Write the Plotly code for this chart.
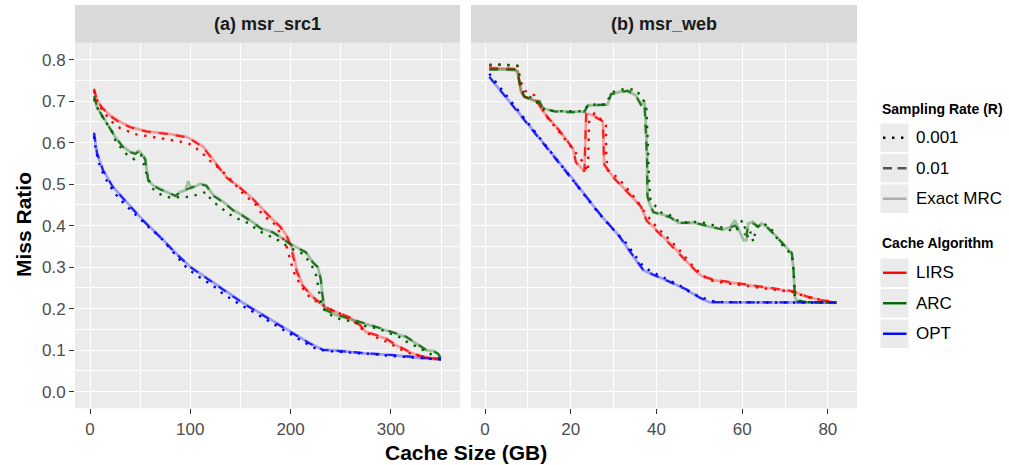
import plotly.graph_objects as go

# ---------------- data: (a) msr_src1 ----------------
A_LIRS_EXACT_X = [4, 7, 12, 20, 30, 40, 56, 76, 96, 103, 113, 123, 136, 149, 162, 172, 182, 190, 197, 200, 203, 206, 212, 222, 235, 252, 260, 269, 275, 285, 295, 305, 318, 328, 341, 350]
A_LIRS_EXACT_Y = [0.728, 0.702, 0.685, 0.666, 0.650, 0.638, 0.627, 0.622, 0.614, 0.606, 0.590, 0.558, 0.517, 0.493, 0.466, 0.440, 0.415, 0.398, 0.372, 0.355, 0.330, 0.295, 0.257, 0.229, 0.203, 0.185, 0.177, 0.160, 0.144, 0.136, 0.128, 0.112, 0.096, 0.086, 0.080, 0.078]
A_LIRS_01_X = [4, 7, 12, 20, 30, 40, 56, 76, 96, 103, 113, 123, 136, 149, 162, 172, 182, 190, 197, 200, 203, 206, 212, 222, 235, 252, 260, 269, 275, 285, 295, 305, 318, 328, 341, 350]
A_LIRS_01_Y = [0.730, 0.700, 0.684, 0.664, 0.648, 0.637, 0.627, 0.621, 0.613, 0.604, 0.588, 0.556, 0.516, 0.492, 0.465, 0.439, 0.414, 0.396, 0.370, 0.350, 0.320, 0.290, 0.255, 0.228, 0.203, 0.186, 0.178, 0.161, 0.144, 0.137, 0.128, 0.113, 0.097, 0.087, 0.081, 0.078]
A_LIRS_001_X = [4, 8, 14, 22, 30, 46, 64, 83, 91, 99, 106, 114, 121, 129, 141, 152, 166, 171, 178, 182, 191, 196, 199, 202, 205, 209, 214, 220, 229, 240, 252, 260, 267, 274, 288, 298, 305, 313, 322, 332, 340, 350]
A_LIRS_001_Y = [0.725, 0.695, 0.672, 0.650, 0.635, 0.620, 0.613, 0.606, 0.602, 0.597, 0.586, 0.570, 0.553, 0.538, 0.509, 0.479, 0.449, 0.429, 0.415, 0.410, 0.377, 0.350, 0.321, 0.297, 0.277, 0.261, 0.242, 0.225, 0.213, 0.198, 0.185, 0.174, 0.162, 0.144, 0.128, 0.118, 0.108, 0.098, 0.090, 0.084, 0.080, 0.078]

A_ARC_EXACT_X = [4, 7, 12, 20, 26, 33, 40, 45, 49, 55, 58, 63, 70, 75, 85, 90, 95, 98, 101, 110, 116, 123, 133, 143, 152, 162, 171, 182, 192, 202, 215, 222, 227, 230, 232, 234, 245, 259, 272, 282, 292, 302, 315, 325, 335, 343, 347, 350]
A_ARC_EXACT_Y = [0.710, 0.686, 0.666, 0.634, 0.610, 0.590, 0.578, 0.574, 0.580, 0.562, 0.509, 0.497, 0.489, 0.484, 0.471, 0.481, 0.485, 0.507, 0.490, 0.501, 0.497, 0.473, 0.457, 0.437, 0.425, 0.409, 0.393, 0.385, 0.369, 0.353, 0.337, 0.313, 0.301, 0.273, 0.229, 0.197, 0.185, 0.174, 0.165, 0.158, 0.150, 0.142, 0.132, 0.116, 0.100, 0.098, 0.092, 0.080]
A_ARC_01_X = [4, 7, 12, 20, 26, 33, 40, 45, 49, 55, 58, 63, 70, 75, 85, 90, 95, 98, 101, 110, 116, 123, 133, 143, 152, 162, 171, 182, 192, 202, 215, 222, 227, 230, 232, 234, 245, 259, 272, 282, 292, 302, 315, 325, 335, 343, 347, 350]
A_ARC_01_Y = [0.712, 0.687, 0.664, 0.633, 0.611, 0.589, 0.577, 0.573, 0.579, 0.560, 0.510, 0.496, 0.487, 0.483, 0.472, 0.480, 0.486, 0.490, 0.492, 0.500, 0.496, 0.472, 0.456, 0.436, 0.424, 0.408, 0.392, 0.384, 0.368, 0.352, 0.336, 0.312, 0.300, 0.272, 0.228, 0.198, 0.186, 0.175, 0.166, 0.159, 0.151, 0.143, 0.133, 0.117, 0.101, 0.097, 0.091, 0.080]
A_ARC_001_X = [4, 8, 13, 18, 22, 25, 30, 36, 44, 51, 55, 57, 62, 68, 76, 85, 92, 98, 106, 112, 116, 121, 128, 136, 143, 151, 159, 167, 174, 182, 191, 197, 206, 214, 219, 224, 226, 229, 231, 235, 242, 250, 260, 268, 277, 287, 295, 303, 312, 318, 327, 335, 342, 350]
A_ARC_001_Y = [0.705, 0.680, 0.660, 0.640, 0.626, 0.607, 0.590, 0.573, 0.560, 0.570, 0.534, 0.520, 0.490, 0.478, 0.469, 0.468, 0.470, 0.469, 0.474, 0.478, 0.481, 0.461, 0.447, 0.433, 0.421, 0.413, 0.405, 0.389, 0.381, 0.373, 0.361, 0.349, 0.339, 0.330, 0.310, 0.293, 0.275, 0.237, 0.206, 0.193, 0.182, 0.174, 0.170, 0.163, 0.156, 0.153, 0.144, 0.137, 0.128, 0.116, 0.108, 0.096, 0.088, 0.078]

A_OPT_EXACT_X = [4, 7, 13, 23, 35, 53, 70, 86, 100, 119, 136, 152, 169, 186, 202, 219, 232, 252, 269, 302, 335, 350]
A_OPT_EXACT_Y = [0.622, 0.574, 0.534, 0.493, 0.461, 0.413, 0.373, 0.333, 0.301, 0.270, 0.242, 0.215, 0.190, 0.165, 0.141, 0.117, 0.101, 0.098, 0.093, 0.088, 0.080, 0.078]
A_OPT_01_X = [4, 7, 13, 23, 35, 53, 70, 86, 100, 119, 136, 152, 169, 186, 202, 219, 232, 252, 269, 302, 335, 350]
A_OPT_01_Y = [0.624, 0.575, 0.533, 0.492, 0.460, 0.412, 0.372, 0.332, 0.300, 0.269, 0.241, 0.214, 0.189, 0.164, 0.140, 0.116, 0.101, 0.098, 0.094, 0.088, 0.081, 0.078]
A_OPT_001_X = [4, 6, 9, 14, 20, 28, 40, 50, 60, 69, 80, 90, 97, 105, 112, 122, 134, 142, 150, 160, 173, 180, 188, 196, 204, 212, 220, 227, 237, 250, 263, 280, 302, 320, 340, 350]
A_OPT_001_Y = [0.615, 0.580, 0.550, 0.520, 0.495, 0.468, 0.439, 0.415, 0.393, 0.375, 0.344, 0.317, 0.297, 0.283, 0.271, 0.257, 0.233, 0.222, 0.209, 0.196, 0.177, 0.167, 0.155, 0.144, 0.132, 0.121, 0.110, 0.102, 0.098, 0.096, 0.094, 0.091, 0.086, 0.083, 0.080, 0.078]

# ---------------- data: (b) msr_web ----------------
B_LIRS_EXACT_X = [1, 6.8, 7.6, 8.4, 9.2, 10.3, 11.5, 12.3, 13.1, 14.6, 17, 19.3, 20.5, 21.2, 22.4, 23.2, 23.6, 25.1, 26.7, 27.5, 27.8, 30.2, 33.3, 36.4, 37.7, 40.8, 44.7, 47.8, 50.2, 53.3, 58.7, 64.2, 68.8, 72, 75, 78.2, 82]
B_LIRS_EXACT_Y = [0.780, 0.777, 0.772, 0.722, 0.710, 0.708, 0.702, 0.698, 0.682, 0.662, 0.634, 0.602, 0.586, 0.554, 0.538, 0.530, 0.670, 0.666, 0.658, 0.650, 0.546, 0.514, 0.481, 0.445, 0.413, 0.381, 0.341, 0.305, 0.281, 0.269, 0.261, 0.253, 0.246, 0.241, 0.229, 0.221, 0.214]
B_LIRS_01_X = [1, 6.8, 7.6, 8.4, 9.2, 10.3, 11.5, 12.3, 13.1, 14.6, 17, 19.3, 20.5, 21.2, 22.4, 23.2, 23.6, 25.1, 26.7, 27.5, 27.8, 30.2, 33.3, 36.4, 37.7, 40.8, 44.7, 47.8, 50.2, 53.3, 58.7, 64.2, 68.8, 72, 75, 78.2, 82]
B_LIRS_01_Y = [0.779, 0.778, 0.771, 0.724, 0.711, 0.707, 0.703, 0.697, 0.683, 0.661, 0.633, 0.603, 0.585, 0.553, 0.537, 0.531, 0.668, 0.665, 0.657, 0.651, 0.548, 0.513, 0.480, 0.446, 0.412, 0.380, 0.340, 0.306, 0.280, 0.270, 0.262, 0.254, 0.247, 0.242, 0.230, 0.221, 0.214]
B_LIRS_001_X = [1, 3.3, 6, 7.5, 8.4, 9.3, 10.5, 11.5, 12.8, 14.6, 17, 19.7, 21.5, 22.8, 24, 24.1, 24.3, 25.5, 26.7, 28.2, 28.3, 28.6, 31, 32.3, 35.5, 37.3, 40, 43.2, 45.9, 48.6, 52.1, 56, 60, 64, 68, 72, 75, 78, 82]
B_LIRS_001_Y = [0.785, 0.788, 0.786, 0.785, 0.745, 0.725, 0.718, 0.714, 0.690, 0.660, 0.630, 0.594, 0.572, 0.554, 0.530, 0.618, 0.650, 0.670, 0.660, 0.642, 0.570, 0.534, 0.515, 0.500, 0.460, 0.431, 0.397, 0.365, 0.335, 0.301, 0.269, 0.262, 0.256, 0.250, 0.245, 0.240, 0.228, 0.222, 0.215]

B_ARC_EXACT_X = [1, 6.8, 7.6, 8.4, 9.2, 11.1, 12.7, 13.5, 16.2, 20.1, 23.2, 24, 26.3, 28.6, 29.4, 31.3, 33.3, 35.2, 36.4, 37.2, 37.5, 37.8, 37.9, 38.5, 39.3, 43.2, 45.1, 48.6, 52.5, 55.6, 57.2, 58.3, 59.1, 60.3, 61, 61.4, 62.5, 63.8, 64.5, 65.7, 68.1, 70.4, 71.6, 72, 72.3, 72.8, 75, 82]
B_ARC_EXACT_Y = [0.777, 0.775, 0.771, 0.726, 0.710, 0.702, 0.700, 0.682, 0.676, 0.674, 0.674, 0.690, 0.690, 0.692, 0.716, 0.722, 0.724, 0.714, 0.692, 0.697, 0.650, 0.570, 0.473, 0.450, 0.433, 0.421, 0.407, 0.407, 0.397, 0.391, 0.396, 0.413, 0.393, 0.365, 0.365, 0.405, 0.409, 0.397, 0.405, 0.397, 0.373, 0.345, 0.333, 0.293, 0.229, 0.218, 0.216, 0.214]
B_ARC_01_X = [1, 6.8, 7.6, 8.4, 9.2, 11.1, 12.7, 13.5, 16.2, 20.1, 23.2, 24, 26.3, 28.6, 29.4, 31.3, 33.3, 35.2, 36.4, 37.2, 37.5, 37.8, 37.9, 38.5, 39.3, 43.2, 45.1, 48.6, 52.5, 55.6, 57.2, 58.3, 59.1, 60.3, 61, 61.4, 62.5, 63.8, 64.5, 65.7, 68.1, 70.4, 71.6, 72, 72.3, 72.8, 75, 82]
B_ARC_01_Y = [0.776, 0.776, 0.770, 0.727, 0.711, 0.701, 0.699, 0.683, 0.675, 0.673, 0.675, 0.689, 0.691, 0.691, 0.717, 0.721, 0.725, 0.713, 0.691, 0.696, 0.640, 0.560, 0.470, 0.449, 0.432, 0.420, 0.406, 0.408, 0.398, 0.390, 0.395, 0.400, 0.392, 0.380, 0.378, 0.400, 0.405, 0.398, 0.404, 0.398, 0.372, 0.346, 0.334, 0.292, 0.230, 0.219, 0.216, 0.214]
B_ARC_001_X = [1, 3.3, 6, 7.6, 8.2, 9, 10, 11.5, 12.8, 14, 16, 18, 20.5, 23, 24, 26, 28.2, 29.5, 31.3, 33.3, 35.2, 36.8, 37.6, 37.9, 38.1, 38.3, 38.6, 40, 41.2, 43.2, 44.8, 47.1, 49, 51, 52.9, 54.9, 56.8, 58.4, 59.5, 60, 61, 61.4, 62, 62.6, 63, 63.4, 64.9, 66.5, 68.4, 69.9, 71.6, 72, 72.3, 73.1, 75, 78, 82]
B_ARC_001_Y = [0.788, 0.788, 0.787, 0.785, 0.750, 0.720, 0.712, 0.705, 0.688, 0.680, 0.676, 0.676, 0.676, 0.676, 0.690, 0.692, 0.692, 0.720, 0.728, 0.728, 0.728, 0.705, 0.690, 0.620, 0.550, 0.500, 0.460, 0.445, 0.431, 0.425, 0.413, 0.407, 0.409, 0.407, 0.403, 0.397, 0.391, 0.385, 0.401, 0.413, 0.385, 0.369, 0.385, 0.361, 0.381, 0.397, 0.405, 0.397, 0.365, 0.347, 0.330, 0.293, 0.229, 0.220, 0.216, 0.215, 0.214]

B_OPT_EXACT_X = [1, 10, 20, 27, 31.5, 34.6, 36.9, 39.3, 43.2, 47.1, 50.2, 52.5, 60, 70, 82]
B_OPT_EXACT_Y = [0.758, 0.645, 0.519, 0.425, 0.373, 0.325, 0.293, 0.281, 0.265, 0.245, 0.225, 0.215, 0.215, 0.215, 0.215]
B_OPT_01_X = [1, 10, 20, 27, 31.5, 34.6, 36.9, 39.3, 43.2, 47.1, 50.2, 52.5, 60, 70, 82]
B_OPT_01_Y = [0.759, 0.644, 0.518, 0.426, 0.372, 0.326, 0.294, 0.282, 0.264, 0.246, 0.226, 0.216, 0.215, 0.215, 0.215]
B_OPT_001_X = [1, 5, 10, 15, 20, 26.3, 30, 33, 35.5, 36.7, 38.5, 40.4, 42.4, 44.3, 46.3, 48, 50, 51.9, 54, 60, 66, 72, 78, 82]
B_OPT_001_Y = [0.766, 0.714, 0.648, 0.582, 0.516, 0.433, 0.390, 0.357, 0.321, 0.305, 0.291, 0.281, 0.270, 0.262, 0.251, 0.238, 0.230, 0.222, 0.216, 0.215, 0.215, 0.215, 0.215, 0.215]

PANEL_TITLES = ["(a) msr_src1", "(b) msr_web"]
ALGORITHMS = ["LIRS", "ARC", "OPT"]
RATES = ["0.001", "0.01", "Exact MRC"]
Y_TICKS = [0.0, 0.1, 0.2, 0.3, 0.4, 0.5, 0.6, 0.7, 0.8]
X_TICKS_A = [0, 100, 200, 300]
X_TICKS_B = [0, 20, 40, 60, 80]

# ---------------- styling ----------------
W, H = 1009, 465
FONT = "Liberation Sans, Arial, Helvetica, sans-serif"
RGB = {"LIRS": (255, 0, 0), "ARC": (0, 100, 0), "OPT": (0, 0, 255)}


def rgba(name, a):
    r, g, b = RGB[name]
    return f"rgba({r},{g},{b},{a})"


def fx(p):
    return p / W


def fy(p):
    return (H - p) / H


data = {
    ("x", "y"): {
        "LIRS": [(A_LIRS_EXACT_X, A_LIRS_EXACT_Y), (A_LIRS_01_X, A_LIRS_01_Y), (A_LIRS_001_X, A_LIRS_001_Y)],
        "ARC": [(A_ARC_EXACT_X, A_ARC_EXACT_Y), (A_ARC_01_X, A_ARC_01_Y), (A_ARC_001_X, A_ARC_001_Y)],
        "OPT": [(A_OPT_EXACT_X, A_OPT_EXACT_Y), (A_OPT_01_X, A_OPT_01_Y), (A_OPT_001_X, A_OPT_001_Y)],
    },
    ("x2", "y2"): {
        "LIRS": [(B_LIRS_EXACT_X, B_LIRS_EXACT_Y), (B_LIRS_01_X, B_LIRS_01_Y), (B_LIRS_001_X, B_LIRS_001_Y)],
        "ARC": [(B_ARC_EXACT_X, B_ARC_EXACT_Y), (B_ARC_01_X, B_ARC_01_Y), (B_ARC_001_X, B_ARC_001_Y)],
        "OPT": [(B_OPT_EXACT_X, B_OPT_EXACT_Y), (B_OPT_01_X, B_OPT_01_Y), (B_OPT_001_X, B_OPT_001_Y)],
    },
}

fig = go.Figure()
# layer order: exact (pale), 0.01 (dashed), 0.001 (dotted)
for level in range(3):
    for (xa, ya), series in data.items():
        for alg in ALGORITHMS:
            xs, ys = series[alg][level]
            if level == 0:
                line = dict(color=rgba(alg, 0.33), width=2.8)
            elif level == 1:
                line = dict(color=rgba(alg, 0.8), width=2.2, dash="9px,8px")
            else:
                line = dict(color=rgba(alg, 1.0), width=2.4, dash="2.4px,6.6px")
            fig.add_trace(go.Scatter(x=xs, y=ys, xaxis=xa, yaxis=ya, mode="lines",
                                     line=line, showlegend=False, hoverinfo="skip",
                                     name=f"{alg} {RATES[2 - level] if level else 'Exact MRC'}"))

y_dom = [fy(408.3), fy(43)]
common_axis = dict(showgrid=True, gridcolor="white", gridwidth=1.1, zeroline=False,
                   showline=False, ticks="outside", ticklen=5, tickwidth=1.1, tickcolor="#333333",
                   tickfont=dict(family=FONT, size=17, color="#4D4D4D"))

fig.update_layout(
    width=W, height=H, margin=dict(l=0, r=0, t=0, b=0),
    paper_bgcolor="white", plot_bgcolor="#EBEBEB",
    font=dict(family=FONT),
    xaxis=dict(domain=[fx(75), fx(460)], range=[-14.96, 368.9], anchor="y",
               tickvals=X_TICKS_A, ticktext=[str(v) for v in X_TICKS_A],
               minor=dict(tickvals=[50, 150, 250, 350], showgrid=True, gridcolor="white", gridwidth=0.55, ticks=""),
               **common_axis),
    xaxis2=dict(domain=[fx(471), fx(857)], range=[-3.27, 86.8], anchor="y2",
                tickvals=X_TICKS_B, ticktext=[str(v) for v in X_TICKS_B],
                minor=dict(tickvals=[10, 30, 50, 70], showgrid=True, gridcolor="white", gridwidth=0.55, ticks=""),
                **common_axis),
    yaxis=dict(domain=y_dom, range=[-0.04, 0.84], anchor="x",
               tickvals=Y_TICKS, ticktext=[f"{v:.1f}" for v in Y_TICKS],
               minor=dict(tickvals=[0.05, 0.15, 0.25, 0.35, 0.45, 0.55, 0.65, 0.75], showgrid=True,
                          gridcolor="white", gridwidth=0.55, ticks=""),
               **common_axis),
    yaxis2=dict(domain=y_dom, range=[-0.04, 0.84], anchor="x2", matches="y",
                tickvals=Y_TICKS, showticklabels=False,
                minor=dict(tickvals=[0.05, 0.15, 0.25, 0.35, 0.45, 0.55, 0.65, 0.75], showgrid=True,
                           gridcolor="white", gridwidth=0.55, ticks=""),
                **{k: v for k, v in common_axis.items() if k not in ("ticks",)}, ticks=""),
)

shapes = []
annotations = []
# facet strips
for (x0, x1), title in zip([(75, 460), (471, 857)], PANEL_TITLES):
    shapes.append(dict(type="rect", xref="paper", yref="paper", x0=fx(x0), x1=fx(x1),
                       y0=fy(42.7), y1=fy(5), fillcolor="#D9D9D9", line=dict(width=0), layer="below"))
    annotations.append(dict(xref="paper", yref="paper", x=fx((x0 + x1) / 2), y=fy(24),
                            text=f"<b>{title}</b>", showarrow=False, xanchor="center", yanchor="middle",
                            font=dict(family=FONT, size=18, color="#1A1A1A")))

# axis titles
annotations.append(dict(xref="paper", yref="paper", x=fx(466), y=fy(452), text="<b>Cache Size (GB)</b>",
                        showarrow=False, xanchor="center", yanchor="middle",
                        font=dict(family=FONT, size=21, color="black")))
annotations.append(dict(xref="paper", yref="paper", x=fx(23), y=fy(225), text="<b>Miss Ratio</b>",
                        showarrow=False, xanchor="center", yanchor="middle", textangle=-90,
                        font=dict(family=FONT, size=21, color="black")))

# legends (ggplot-style keys)
def legend_block(title, title_y, items, key_top):
    annotations.append(dict(xref="paper", yref="paper", x=fx(880), y=fy(title_y), text=f"<b>{title}</b>",
                            showarrow=False, xanchor="left", yanchor="middle",
                            font=dict(family=FONT, size=14, color="black")))
    for i, (label, color, dash) in enumerate(items):
        top = key_top + i * 30.5
        shapes.append(dict(type="rect", xref="paper", yref="paper", x0=fx(880.5), x1=fx(908.5),
                           y0=fy(top + 28.5), y1=fy(top), fillcolor="#EBEBEB", line=dict(width=0)))
        cy = top + 14.25
        shapes.append(dict(type="line", xref="paper", yref="paper", x0=fx(883), x1=fx(906.5),
                           y0=fy(cy), y1=fy(cy), line=dict(color=color, width=2.4, dash=dash)))
        annotations.append(dict(xref="paper", yref="paper", x=fx(914), y=fy(cy), text=label,
                                showarrow=False, xanchor="left", yanchor="middle",
                                font=dict(family=FONT, size=17, color="black")))


legend_block("Sampling Rate (R)", 109,
             [(RATES[0], "black", "2.4px,6.6px"), (RATES[1], "#555555", "9px,5.5px"), (RATES[2], "#AAAAAA", "solid")],
             123.5)
legend_block("Cache Algorithm", 243,
             [(ALGORITHMS[0], "#FF0000", "solid"), (ALGORITHMS[1], "#006400", "solid"), (ALGORITHMS[2], "#0000FF", "solid")],
             258.5)

fig.update_layout(shapes=shapes, annotations=annotations)
fig.write_html("out.html")
